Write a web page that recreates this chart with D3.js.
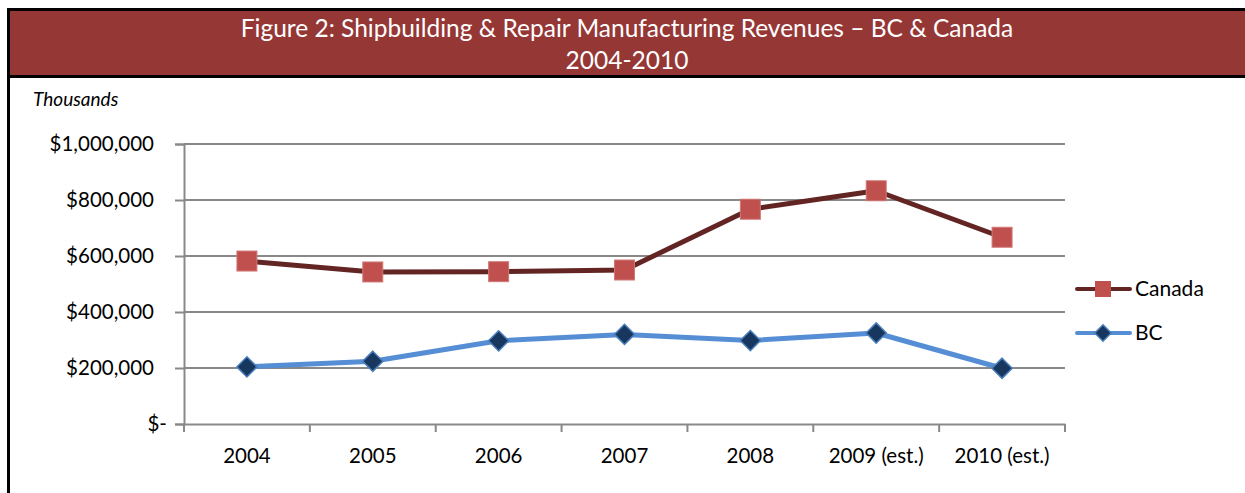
<!DOCTYPE html>
<html>
<head>
<meta charset="utf-8">
<script src="https://cdn.jsdelivr.net/npm/d3@7"></script>
<style>
  body { margin: 0; background: #fff; }
  svg { display: block; font-family: Lato, "Open Sans", sans-serif; }
</style>
</head>
<body>
<svg width="1245" height="493"></svg>
<script>
// data (thousands of $)
const years = ['2004', '2005', '2006', '2007', '2008', '2009 (est.)', '2010 (est.)'];
const canada = [582000, 543000, 544000, 550000, 767000, 833000, 667000];
const bc = [204000, 224000, 297000, 320000, 298000, 325000, 199000];
const yTicks = [0, 200000, 400000, 600000, 800000, 1000000];

const svg = d3.select('svg');
const width = 1245, height = 493;

const margin = { top: 144, right: 180, bottom: 69, left: 184 };
const plotWidth = width - margin.left - margin.right;
const plotHeight = height - margin.top - margin.bottom;

// frame + title band (right edge of the frame is cut off)
svg.append('rect')
  .attr('x', 9).attr('y', 10).attr('width', 1240).attr('height', 66)
  .attr('fill', '#953735');
svg.append('line')
  .attr('x1', 7).attr('x2', 1245).attr('y1', 9.5).attr('y2', 9.5)
  .attr('stroke', '#000').attr('stroke-width', 3);
svg.append('line')
  .attr('x1', 8.5).attr('x2', 8.5).attr('y1', 8).attr('y2', 493)
  .attr('stroke', '#000').attr('stroke-width', 3);
svg.append('line')
  .attr('x1', 8).attr('x2', 1245).attr('y1', 76.5).attr('y2', 76.5)
  .attr('stroke', '#000').attr('stroke-width', 3);

svg.append('text')
  .attr('x', 627).attr('y', 37)
  .attr('text-anchor', 'middle').attr('fill', '#fff')
  .style('font-size', '24.5px')
  .text('Figure 2: Shipbuilding & Repair Manufacturing Revenues – BC & Canada');
svg.append('text')
  .attr('x', 627).attr('y', 69)
  .attr('text-anchor', 'middle').attr('fill', '#fff')
  .style('font-size', '24.5px')
  .text('2004-2010');

svg.append('text')
  .attr('x', 33).attr('y', 106)
  .style('font-size', '19px').style('font-style', 'italic')
  .text('Thousands');

const chart = svg.append('g')
  .attr('transform', `translate(${margin.left},${margin.top})`);

// scales
const xBand = d3.scaleBand().domain(years).range([0, plotWidth]);
const x = d => xBand(d) + xBand.bandwidth() / 2;
const y = d3.scaleLinear().domain([0, 1000000]).range([plotHeight, 0]);

// gridlines
chart.append('g')
  .selectAll('line')
  .data(yTicks.filter(d => d > 0))
  .join('line')
  .attr('x1', 0).attr('x2', plotWidth)
  .attr('y1', d => y(d)).attr('y2', d => y(d))
  .attr('stroke', '#898989').attr('stroke-width', 2);

const axisFont = 'Lato, "Open Sans", sans-serif';

// y axis (accounting style: the dash sits further right than the numbers)
const yAxis = chart.append('g')
  .call(d3.axisLeft(y).tickValues(yTicks).tickSize(9).tickPadding(8)
    .tickFormat(d => d === 0 ? '$-' : '$' + d3.format(',')(d)));
yAxis.select('.domain').attr('stroke', '#898989').attr('stroke-width', 2);
yAxis.selectAll('.tick line').attr('stroke', '#898989').attr('stroke-width', 2);
yAxis.selectAll('text').attr('fill', '#000')
  .attr('dx', d => d === 0 ? 0 : -13)
  .style('font-size', '20.5px').style('font-family', axisFont);

// x axis
const xAxis = chart.append('g')
  .attr('transform', `translate(0,${plotHeight})`)
  .call(d3.axisBottom(xBand).tickSize(0).tickPadding(24));
xAxis.select('.domain').attr('stroke', '#898989').attr('stroke-width', 2);
xAxis.selectAll('text').attr('fill', '#000')
  .style('font-size', '20.5px').style('font-family', axisFont);
chart.append('g')
  .selectAll('line')
  .data(years.map(d => xBand(d)).concat([plotWidth]))
  .join('line')
  .attr('x1', d => d).attr('x2', d => d)
  .attr('y1', plotHeight).attr('y2', plotHeight + 8)
  .attr('stroke', '#898989').attr('stroke-width', 2);

const line = d3.line().x((d, i) => x(years[i])).y(d => y(d));

// Canada
chart.append('path')
  .datum(canada)
  .attr('d', line)
  .attr('fill', 'none').attr('stroke', '#632523').attr('stroke-width', 5)
  .attr('stroke-linejoin', 'round');
chart.selectAll('rect.can')
  .data(canada)
  .join('rect')
  .attr('class', 'can')
  .attr('x', (d, i) => x(years[i]) - 10)
  .attr('y', d => y(d) - 10)
  .attr('width', 20).attr('height', 20)
  .attr('fill', '#C0504D').attr('stroke', '#D07A78').attr('stroke-width', 1);

// BC
chart.append('path')
  .datum(bc)
  .attr('d', line)
  .attr('fill', 'none').attr('stroke', '#558ED5').attr('stroke-width', 5)
  .attr('stroke-linejoin', 'round');
const diamond = d3.symbol().type(d3.symbolDiamond2).size(260);
chart.selectAll('path.bcm')
  .data(bc)
  .join('path')
  .attr('class', 'bcm')
  .attr('d', diamond)
  .attr('transform', (d, i) => `translate(${x(years[i])},${y(d)})`)
  .attr('fill', '#17375E').attr('stroke', '#4A7EBB').attr('stroke-width', 1.5);

// legend
const legend = svg.append('g').attr('transform', 'translate(1075,0)');
const legendItems = [
  { name: 'Canada', line: '#632523', y: 289 },
  { name: 'BC', line: '#558ED5', y: 333 }
];
legend.selectAll('line')
  .data(legendItems)
  .join('line')
  .attr('x1', 2).attr('x2', 55)
  .attr('y1', d => d.y).attr('y2', d => d.y)
  .attr('stroke', d => d.line).attr('stroke-width', 4).attr('stroke-linecap', 'round');
legend.append('rect')
  .attr('x', 20).attr('y', legendItems[0].y - 8).attr('width', 16).attr('height', 16)
  .attr('fill', '#C0504D');
legend.append('path')
  .attr('d', d3.symbol().type(d3.symbolDiamond2).size(170))
  .attr('transform', `translate(28,${legendItems[1].y})`)
  .attr('fill', '#17375E').attr('stroke', '#4A7EBB').attr('stroke-width', 1.5);
legend.selectAll('text')
  .data(legendItems)
  .join('text')
  .attr('x', 60).attr('y', d => d.y + 7)
  .style('font-size', '21px')
  .text(d => d.name);
</script>
</body>
</html>
